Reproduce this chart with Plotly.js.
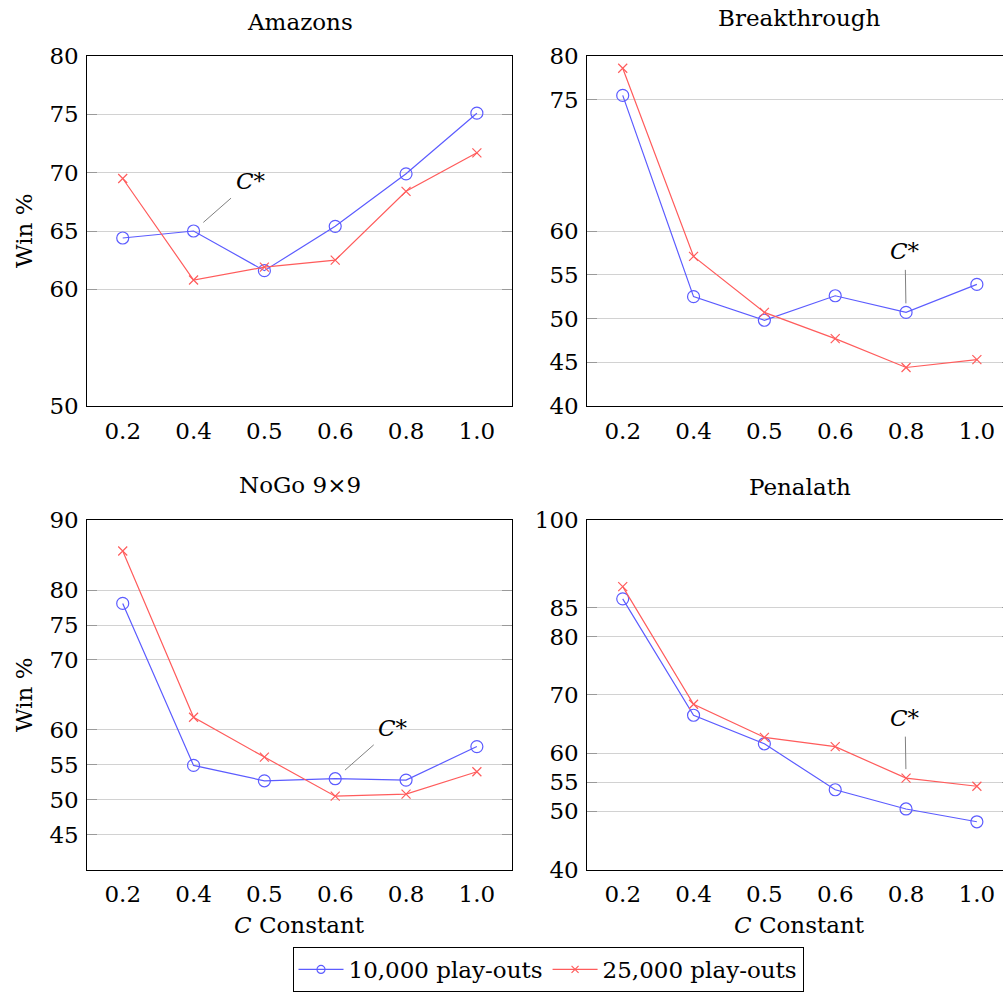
<!DOCTYPE html>
<html>
<head>
<meta charset="utf-8">
<script src="https://cdn.plot.ly/plotly-3.0.1.min.js"></script>
<style>
html, body { margin: 0; padding: 0; overflow: hidden; background: #fff; }
#chart { width: 1013px; height: 992px; }
</style>
</head>
<body>
<div id="chart"></div>
<script>
// ---- data ----
const cValues = ['0.2', '0.4', '0.5', '0.6', '0.8', '1.0'];
const amazons10k = [64.4, 65.0, 61.6, 65.4, 69.9, 75.1];
const amazons25k = [69.5, 60.8, 61.9, 62.5, 68.4, 71.7];
const breakthrough10k = [75.5, 52.5, 49.8, 52.6, 50.7, 53.9];
const breakthrough25k = [78.6, 57.1, 50.7, 47.7, 44.4, 45.3];
const nogo10k = [78.1, 54.9, 52.7, 53.0, 52.8, 57.6];
const nogo25k = [85.6, 61.8, 56.1, 50.5, 50.8, 54.0];
const penalath10k = [86.5, 66.5, 61.6, 53.7, 50.4, 48.2];
const penalath25k = [88.6, 68.4, 62.7, 61.1, 55.7, 54.3];

const panelTitles = ['Amazons', 'Breakthrough', 'NoGo 9×9', 'Penalath'];
const amazonsTicks = [50, 60, 65, 70, 75, 80];
const breakthroughTicks = [40, 45, 50, 55, 60, 75, 80];
const nogoTicks = [45, 50, 55, 60, 70, 75, 80, 90];
const penalathTicks = [40, 50, 55, 60, 70, 80, 85, 100];
const seriesNames = ['10,000 play-outs', '25,000 play-outs'];

// ---- layout helpers ----
const W = 1013, H = 992;
const FONT = 'DejaVu Serif';
const FS = 23;
const BLUE = '#5c5cff', RED = '#ff5c5c';
const px = v => v / W;
const py = v => 1 - v / H;

const panels = [
  { s10: amazons10k, s25: amazons25k, ticks: amazonsTicks, range: [50, 80] },
  { s10: breakthrough10k, s25: breakthrough25k, ticks: breakthroughTicks, range: [40, 80] },
  { s10: nogo10k, s25: nogo25k, ticks: nogoTicks, range: [40, 90] },
  { s10: penalath10k, s25: penalath25k, ticks: penalathTicks, range: [40, 100] }
];
const xDomains = [[px(87.3), px(512.3)], [px(587.3), px(1012.3)]];
const yDomains = [[py(406), py(56)], [py(869.5), py(520.3)]];

const traces = [];
const layout = {
  width: W, height: H,
  margin: { l: 0, r: 0, t: 0, b: 0 },
  paper_bgcolor: '#fff', plot_bgcolor: '#fff',
  font: { family: FONT, size: FS, color: '#000' },
  showlegend: true,
  legend: {
    orientation: 'h', x: px(548), xanchor: 'center', y: py(947), yanchor: 'top',
    bordercolor: '#000', borderwidth: 1, font: { family: FONT, size: FS },
    itemwidth: 45, tracegroupgap: 0
  },
  annotations: []
};

panels.forEach((p, i) => {
  const n = i + 1;
  const xa = 'x' + (n === 1 ? '' : n), ya = 'y' + (n === 1 ? '' : n);
  traces.push({
    x: cValues, y: p.s10, xaxis: xa, yaxis: ya, type: 'scatter', mode: 'lines+markers',
    name: seriesNames[0], showlegend: false,
    line: { color: BLUE, width: 1.2 },
    marker: { symbol: 'circle-open', size: 12, color: BLUE, line: { width: 1.2, color: BLUE } }
  });
  traces.push({
    x: cValues, y: p.s25, xaxis: xa, yaxis: ya, type: 'scatter', mode: 'lines+markers',
    name: seriesNames[1], showlegend: false,
    line: { color: RED, width: 1.2 },
    marker: { symbol: 'x-thin-open', size: 9, color: RED, line: { width: 1.2, color: RED } }
  });
  const col = i % 2, row = Math.floor(i / 2);
  layout['xaxis' + (n === 1 ? '' : n)] = {
    domain: xDomains[col], anchor: ya, type: 'category',
    range: [-0.5, cValues.length - 0.5],
    showline: true, mirror: true, linecolor: '#000', linewidth: 1,
    showgrid: false, zeroline: false, ticks: '',
    tickfont: { family: FONT, size: FS }, ticklabelstandoff: 4,
    fixedrange: true
  };
  layout['yaxis' + (n === 1 ? '' : n)] = {
    domain: yDomains[row], anchor: xa, range: p.range,
    tickmode: 'array', tickvals: p.ticks, ticktext: p.ticks.map(String),
    showline: true, mirror: 'ticks', linecolor: '#000', linewidth: 1,
    ticks: 'inside', ticklen: 10, tickcolor: '#9a9a9a', tickwidth: 1,
    showgrid: true, gridcolor: '#d2d2d2', gridwidth: 1, zeroline: false,
    tickfont: { family: FONT, size: FS }, ticklabelstandoff: 3,
    fixedrange: true
  };
});

// legend-only traces (small markers as in the reference legend)
traces.push({
  x: [null], y: [null], type: 'scatter', mode: 'lines+markers', name: seriesNames[0],
  line: { color: BLUE, width: 1.2 },
  marker: { symbol: 'circle-open', size: 8, color: BLUE, line: { width: 1.2, color: BLUE } }
});
traces.push({
  x: [null], y: [null], type: 'scatter', mode: 'lines+markers', name: seriesNames[1],
  line: { color: RED, width: 1.2 },
  marker: { symbol: 'x-thin-open', size: 7, color: RED, line: { width: 1.2, color: RED } }
});

// panel titles
const titlePos = [[299.8, 22], [799.8, 18], [299.8, 485], [799.8, 487]];
panelTitles.forEach((t, i) => {
  layout.annotations.push({
    text: t, xref: 'paper', yref: 'paper', x: px(titlePos[i][0]), y: py(titlePos[i][1]),
    xanchor: 'center', yanchor: 'middle', showarrow: false, font: { family: FONT, size: FS }
  });
});
// axis titles
[231, 695].forEach(yc => {
  layout.annotations.push({
    text: 'Win %', xref: 'paper', yref: 'paper', x: px(24), y: py(yc), textangle: -90,
    xanchor: 'center', yanchor: 'middle', showarrow: false, font: { family: FONT, size: FS }
  });
});
[299.8, 799.8].forEach(xc => {
  layout.annotations.push({
    text: '<i>C</i> Constant', xref: 'paper', yref: 'paper', x: px(xc), y: py(925),
    xanchor: 'center', yanchor: 'middle', showarrow: false, font: { family: FONT, size: FS }
  });
});
// C* markers (x given as category index)
const cStar = [
  { xref: 'x', yref: 'y', x: cValues.indexOf('0.4'), y: amazons10k[1], ax: 57, ay: -50, standoff: 13 },
  { xref: 'x2', yref: 'y2', x: cValues.indexOf('0.8'), y: breakthrough10k[4], ax: -1, ay: -61, standoff: 9 },
  { xref: 'x3', yref: 'y3', x: cValues.indexOf('0.6'), y: nogo10k[3], ax: 58, ay: -51, standoff: 13 },
  { xref: 'x4', yref: 'y4', x: cValues.indexOf('0.8'), y: penalath25k[4], ax: -1, ay: -60, standoff: 9 }
];
cStar.forEach(c => {
  layout.annotations.push(Object.assign({
    text: '<i>C</i>*', showarrow: true, arrowhead: 0, arrowwidth: 1, arrowcolor: '#808080',
    startstandoff: 4, font: { family: FONT, size: FS }
  }, c));
});

Plotly.newPlot('chart', traces, layout, { displayModeBar: false, staticPlot: true });
</script>
</body>
</html>
